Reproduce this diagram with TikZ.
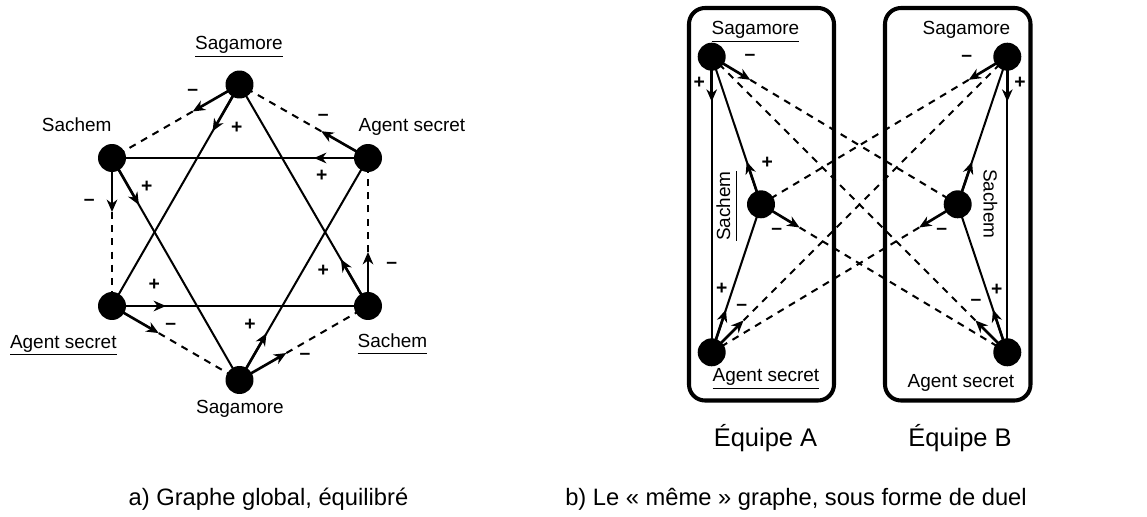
\documentclass[tikz,border=0pt]{standalone}
\usepackage{fontspec}
\setmainfont{Liberation Sans}
\usetikzlibrary{arrows.meta,calc,backgrounds}

\newcommand\souligne[1]{\underline{\vphantom{g}#1}}
\newcommand\arcpos[3][1.08cm]{
	\draw[trait] (#2.center) -- (#3.center);
	\draw[fleche] (#2.center) -- ($(#2)!#1!(#3)$);
	}
\newcommand\arcneg[3][1.08cm]{
	\draw[fleche] (#2.center) -- ($(#2)!#1!(#3)$);
	\draw[trait, dash pattern=on 4pt off 3.5pt] ($(#2)!#1!(#3)$) -- (#3.center);
	}

\begin{document}
\begin{tikzpicture}[x=0.02cm, y=-0.02cm,
	sommet/.style={circle, fill=black, inner sep=0pt, minimum size=0.56cm},
	trait/.style={line width=1.15pt},
	fleche/.style={line width=1.5pt, -{Stealth[length=7pt, width=6pt, inset=2.2pt]}},
	signe/.style={font=\fontsize{11}{12}\selectfont\bfseries, inner sep=0pt},
	etiquette/.style={font=\fontsize{10.8}{12}\selectfont, inner sep=0pt, anchor=base},
	legende/.style={font=\fontsize{13.5}{15}\selectfont, inner sep=0pt, anchor=base},
	equipe/.style={line width=2.3pt, rounded corners=0.32cm}]

	\useasboundingbox (0,0) rectangle (1147,517);

	% a) graphe global
	\node[sommet] (sagHaut) at (239.5,84.5) {};
	\node[sommet] (sacGauche) at (112,158) {};
	\node[sommet] (ageDroite) at (368,158) {};
	\node[sommet] (ageGauche) at (112,306) {};
	\node[sommet] (sacDroite) at (368,306) {};
	\node[sommet] (sagBas) at (239.5,380) {};

	\begin{scope}[on background layer]
		\arcneg{sagHaut}{sacGauche}
		\arcpos{sagHaut}{ageGauche}
		\arcneg{ageDroite}{sagHaut}
		\arcpos{ageDroite}{sacGauche}
		\arcneg{sacGauche}{ageGauche}
		\arcpos{sacGauche}{sagBas}
		\arcpos{ageGauche}{sacDroite}
		\arcneg{ageGauche}{sagBas}
		\arcpos{sagBas}{ageDroite}
		\arcneg{sagBas}{sacDroite}
		\arcpos{sacDroite}{sagHaut}
		\arcneg{sacDroite}{ageDroite}
	\end{scope}

	\node[etiquette] at (239,50) {\souligne{Sagamore}};
	\node[etiquette] at (76.7,131.7) {Sachem};
	\node[etiquette] at (412,131.7) {Agent secret};
	\node[etiquette] at (63.3,348.3) {\souligne{Agent secret}};
	\node[etiquette] at (392.5,347) {\souligne{Sachem}};
	\node[etiquette] at (240,413) {Sagamore};

	\node[signe] at (192.7,92.7) {–};
	\node[signe] at (236.7,128.3) {+};
	\node[signe] at (323.3,117.7) {–};
	\node[signe] at (321.7,176) {+};
	\node[signe] at (146.7,187.3) {+};
	\node[signe] at (89.3,202.3) {–};
	\node[signe] at (391.7,265) {–};
	\node[signe] at (323.3,270.7) {+};
	\node[signe] at (154.3,285.3) {+};
	\node[signe] at (170.7,326) {–};
	\node[signe] at (250,325.3) {+};
	\node[signe] at (305,356) {–};

	% b) le duel
	\draw[equipe] (689,8) rectangle (834,400.5);
	\draw[equipe] (885,8) rectangle (1030.5,400.5);

	\node[sommet] (sagA) at (711.7,56.7) {};
	\node[sommet] (sacA) at (761,204.3) {};
	\node[sommet] (ageA) at (711.7,352.3) {};
	\node[sommet] (sagB) at (1007.3,56.7) {};
	\node[sommet] (sacB) at (957.7,204.3) {};
	\node[sommet] (ageB) at (1007.3,352.3) {};

	\begin{scope}[on background layer]
		\arcpos[0.9cm]{sagA}{ageA}
		\arcpos[0.9cm]{ageA}{sacA}
		\arcpos[0.9cm]{sacA}{sagA}
		\arcneg[0.9cm]{sagA}{sacB}
		\arcneg[0.9cm]{sacA}{ageB}
		\arcneg[0.9cm]{ageA}{sagB}
		\arcpos[0.9cm]{sagB}{ageB}
		\arcpos[0.9cm]{ageB}{sacB}
		\arcpos[0.9cm]{sacB}{sagB}
		\arcneg[0.9cm]{sagB}{sacA}
		\arcneg[0.9cm]{sacB}{ageA}
		\arcneg[0.9cm]{ageB}{sagA}
	\end{scope}

	\node[etiquette] at (755.5,35) {\souligne{Sagamore}};
	\node[etiquette] at (966.5,35) {Sagamore};
	\node[etiquette, rotate=90, anchor=center] at (727,206) {\souligne{Sachem}};
	\node[etiquette, rotate=-90, anchor=center] at (990.5,204) {Sachem};
	\node[etiquette] at (766,381.7) {\souligne{Agent secret}};
	\node[etiquette] at (961,387.7) {Agent secret};

	\node[signe] at (699.3,83.3) {+};
	\node[signe] at (750,57.3) {–};
	\node[signe] at (767.3,163.3) {+};
	\node[signe] at (776.7,231) {–};
	\node[signe] at (721.7,289.3) {+};
	\node[signe] at (741.7,307.3) {–};
	\node[signe] at (966.7,58.3) {–};
	\node[signe] at (1020,82.7) {+};
	\node[signe] at (941.7,231) {–};
	\node[signe] at (996.7,290) {+};
	\node[signe] at (976,302.7) {–};

	\node[font=\fontsize{14.5}{16}\selectfont, anchor=base] at (765.5,446.7) {Équipe A};
	\node[font=\fontsize{14.5}{16}\selectfont, anchor=base] at (960,446.7) {Équipe B};

	% legendes
	\node[legende] at (268.5,505) {a) Graphe global, équilibré};
	\node[legende] at (796,505) {b) Le «~même~» graphe, sous forme de duel};

\end{tikzpicture}
\end{document}
